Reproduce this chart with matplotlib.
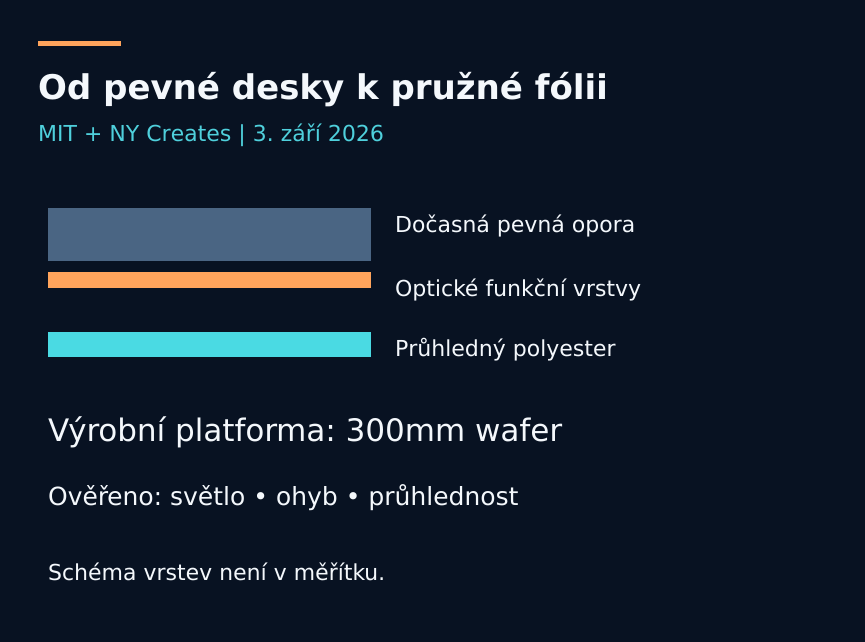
import matplotlib
matplotlib.use("Agg")
import matplotlib.pyplot as plt
from matplotlib.patches import Rectangle

plt.rcParams["text.hinting"] = "no_hinting"
plt.rcParams["text.hinting_factor"] = 1

W, H = 865, 642
BG = "#081222"
TEXT = "#f4f8fc"
layer_names = ["Dočasná pevná opora", "Optické funkční vrstvy", "Průhledný polyester"]
layer_colors = ["#4a6583", "#ffa45c", "#4adae3"]
layer_tops = [208, 272, 332]
layer_heights = [53, 16, 25]
label_y = [225.5, 289.5, 348.4]

fig = plt.figure(figsize=(W/100, H/100), dpi=100, facecolor=BG)
ax = fig.add_axes([0, 0, 1, 1])
ax.set_xlim(0, W); ax.set_ylim(H, 0); ax.axis("off")

ax.add_patch(Rectangle((38, 41), 83, 5, color="#ffa45c", lw=0))
ax.text(38, 89, "Od pevné desky k pružné fólii", color=TEXT, fontsize=24.5, fontweight="bold", va="center")
ax.text(38, 135, "MIT + NY Creates | 3. září 2026", color="#4fd0dc", fontsize=15.75, va="center")

for n, c, t, h, ly in zip(layer_names, layer_colors, layer_tops, layer_heights, label_y):
    ax.add_patch(Rectangle((48, t), 323, h, color=c, lw=0))
    ax.text(395, ly, n, color=TEXT, fontsize=15.8, va="center")

ax.text(48, 432, "Výrobní platforma: 300mm wafer", color=TEXT, fontsize=22.4, va="center")
ax.text(48, 498, "Ověřeno: světlo • ohyb • průhlednost", color=TEXT, fontsize=18, va="center")
ax.text(48, 573.5, "Schéma vrstev není v měřítku.", color=TEXT, fontsize=15.8, va="center")

fig.savefig("out.png", dpi=100, facecolor=BG)
